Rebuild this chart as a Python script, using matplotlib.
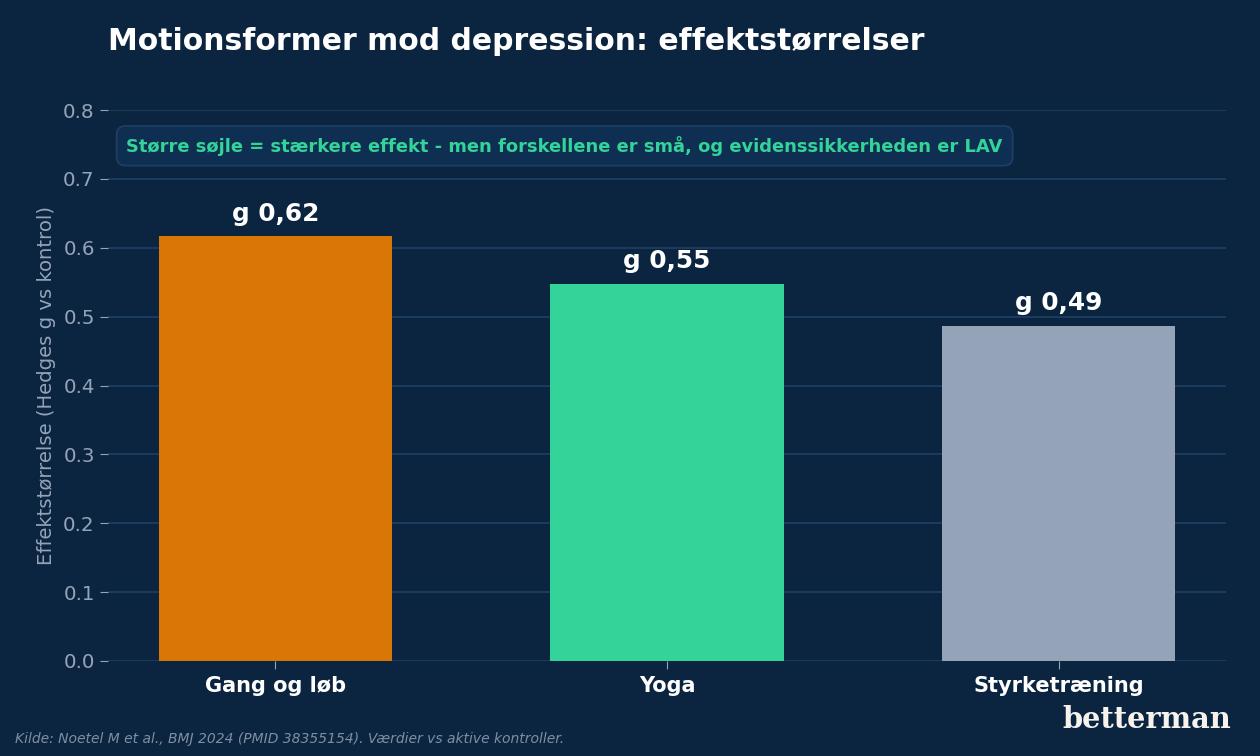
import matplotlib
matplotlib.use("Agg")
from matplotlib import pyplot as plt

plt.rcParams["font.family"] = ["DejaVu Sans"]

categories = ["Gang og løb", "Yoga", "Styrketræning"]
effect = [0.617, 0.548, 0.487]
labels = ["g 0,62", "g 0,55", "g 0,49"]
colors = ["#D97706", "#34D399", "#94A3B8"]
yticks = [0.0, 0.1, 0.2, 0.3, 0.4, 0.5, 0.6, 0.7, 0.8]

bg = "#0B2540"
grid = "#1E3F66"
muted = "#94A3B8"

fig = plt.figure(figsize=(12.6, 7.56), dpi=100, facecolor=bg)
ax = fig.add_axes([108 / 1260, 1 - 661 / 756, (1226 - 108) / 1260, (661 - 110) / 756])
ax.set_facecolor(bg)

x = range(len(categories))
ax.bar(x, effect, width=0.595, color=colors, zorder=3)
for i, (v, lab) in enumerate(zip(effect, labels)):
    ax.text(i, v + 0.015, lab, ha="center", va="bottom", color="white",
            fontsize=17.8, fontweight="bold", zorder=4)

ax.set_ylim(0, 0.8)
ax.set_yticks(yticks)
ax.set_yticklabels([f"{t:.1f}" for t in yticks])
ax.set_xticks(list(x))
ax.set_xticklabels(categories, fontsize=15, fontweight="bold", color="white")
ax.tick_params(axis="y", colors=muted, labelsize=14.3, length=6, color=muted)
ax.tick_params(axis="x", length=6, color=muted, pad=5)
for lbl in ax.get_xticklabels():
    lbl.set_color("white")
ax.grid(axis="y", color=grid, linewidth=1.2, zorder=0)
for s in ax.spines.values():
    s.set_visible(False)
ax.set_ylabel("Effektstørrelse (Hedges g vs kontrol)", color=muted, fontsize=14.1, labelpad=5)

ax.text(0.0165, 0.935, "Større søjle = stærkere effekt - men forskellene er små, og evidenssikkerheden er LAV",
        transform=ax.transAxes, ha="left", va="center", color="#34D399",
        fontsize=12.9, fontweight="bold", zorder=5,
        bbox=dict(boxstyle="round,pad=0.55,rounding_size=0.5", facecolor="#0F2F52",
                  edgecolor="#1E3F66", linewidth=1.2))

fig.text(108 / 1260, 1 - 42 / 756, "Motionsformer mod depression: effektstørrelser",
         color="white", fontsize=21.5, fontweight="bold", ha="left", va="center")
fig.text(15 / 1260, 1 - 739 / 756, "Kilde: Noetel M et al., BMJ 2024 (PMID 38355154). Værdier vs aktive kontroller.",
         color="#7F8EA3", fontsize=10, style="italic", ha="left", va="center")
fig.text(1231 / 1260, 1 - 719 / 756, "betterman", color="#F7F3EC", fontsize=20.8,
         fontweight="bold", family="DejaVu Serif", ha="right", va="center")

fig.savefig("out.png", dpi=100, facecolor=bg)
